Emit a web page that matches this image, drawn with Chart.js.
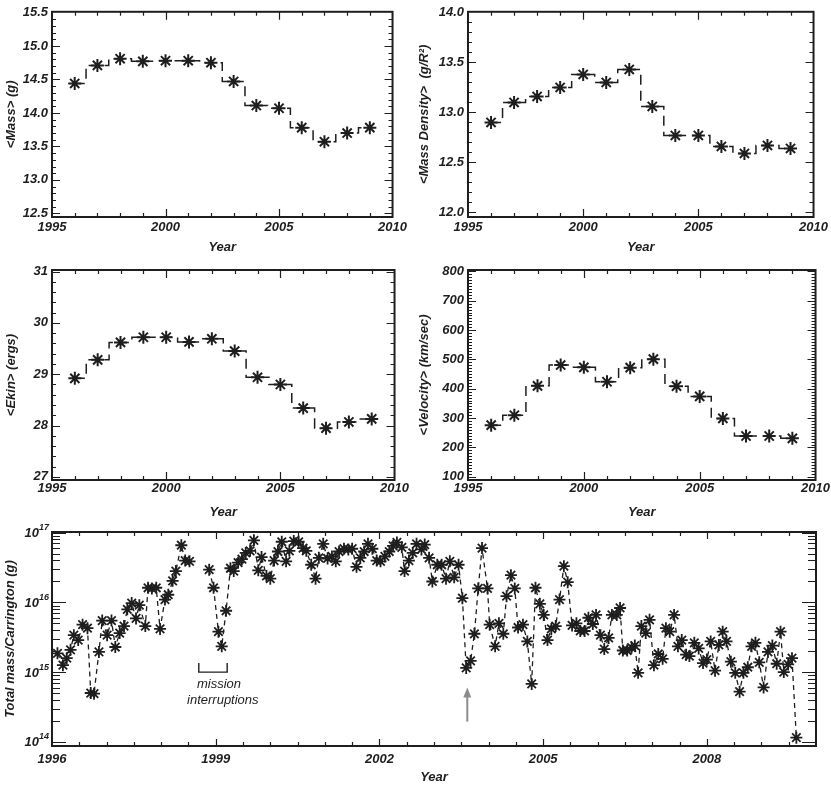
<!DOCTYPE html>
<html>
<head>
<meta charset="utf-8">
<script src="https://cdn.jsdelivr.net/npm/chart.js@4.4.0/dist/chart.umd.min.js"></script>
<style>
  html, body { margin: 0; padding: 0; background: #fff; }
  #wrap { position: relative; width: 831px; height: 785px; }
  canvas { position: absolute; }
</style>
</head>
<body>
<div id="wrap">
  <canvas id="c-mass" width="410" height="255" style="left:0;top:0"></canvas>
  <canvas id="c-density" width="421" height="255" style="left:410px;top:0"></canvas>
  <canvas id="c-ekin" width="410" height="265" style="left:0;top:255px"></canvas>
  <canvas id="c-velocity" width="421" height="265" style="left:410px;top:255px"></canvas>
  <canvas id="c-total" width="831" height="265" style="left:0;top:520px"></canvas>
</div>
<script>
// yearly averages
const years = [1996, 1997, 1998, 1999, 2000, 2001, 2002, 2003, 2004, 2005, 2006, 2007, 2008, 2009];
const meanMass = [14.44, 14.71, 14.81, 14.77, 14.78, 14.78, 14.75, 14.47, 14.11, 14.07, 13.78, 13.57, 13.70, 13.78];
const meanDensity = [12.90, 13.10, 13.16, 13.25, 13.38, 13.30, 13.43, 13.06, 12.77, 12.77, 12.66, 12.59, 12.67, 12.64];
const meanEkin = [28.92, 29.28, 29.62, 29.72, 29.72, 29.63, 29.69, 29.45, 28.94, 28.80, 28.34, 27.95, 28.07, 28.13];
const meanVelocity = [276, 310, 410, 481, 473, 424, 472, 501, 409, 374, 299, 239, 239, 231];

// total mass per Carrington rotation (log10 of grams)
const crYears = [
  1996.10, 1996.20, 1996.27, 1996.34, 1996.40, 1996.48, 1996.56, 1996.65, 1996.71, 1996.77,
  1996.86, 1996.92, 1997.01, 1997.09, 1997.16, 1997.24, 1997.32, 1997.38, 1997.46, 1997.54,
  1997.60, 1997.71, 1997.76, 1997.83, 1997.91, 1997.98, 1998.07, 1998.13, 1998.21, 1998.27,
  1998.37, 1998.44, 1998.52,
  1998.88, 1998.96, 1999.05, 1999.11, 1999.19, 1999.27, 1999.33, 1999.41, 1999.48, 1999.55,
  1999.63, 1999.70, 1999.78, 1999.84, 1999.93, 2000.00, 2000.07, 2000.14, 2000.21, 2000.29,
  2000.35, 2000.43, 2000.52, 2000.60, 2000.66, 2000.75, 2000.83, 2000.89, 2000.97, 2001.05,
  2001.13, 2001.20, 2001.26, 2001.35, 2001.43, 2001.50, 2001.58, 2001.65, 2001.72, 2001.79,
  2001.87, 2001.95, 2002.02, 2002.10, 2002.18, 2002.25, 2002.32, 2002.41, 2002.46, 2002.54,
  2002.61, 2002.68, 2002.77, 2002.83, 2002.91, 2002.97,
  2003.06, 2003.14, 2003.22, 2003.29, 2003.37, 2003.45, 2003.52, 2003.59, 2003.67, 2003.74,
  2003.81, 2003.88, 2003.98, 2004.02, 2004.12, 2004.19, 2004.27, 2004.33, 2004.41, 2004.48,
  2004.54, 2004.63, 2004.71, 2004.79, 2004.86, 2004.94, 2005.01, 2005.08, 2005.15, 2005.23,
  2005.30, 2005.38, 2005.45, 2005.53, 2005.61, 2005.68, 2005.76, 2005.83, 2005.91, 2005.97,
  2006.05, 2006.12, 2006.20, 2006.26, 2006.35, 2006.41, 2006.46,
  2006.54, 2006.62, 2006.68, 2006.74, 2006.80, 2006.88, 2006.95, 2007.03, 2007.11, 2007.19,
  2007.25, 2007.32, 2007.40, 2007.47, 2007.54, 2007.62, 2007.68, 2007.77, 2007.85, 2007.93,
  2008.00, 2008.07, 2008.15, 2008.22, 2008.29, 2008.36, 2008.44, 2008.52, 2008.60, 2008.67,
  2008.75, 2008.82, 2008.89, 2008.96, 2009.04, 2009.12, 2009.20, 2009.28, 2009.35, 2009.41,
  2009.49, 2009.56, 2009.64
];
const crLogMass = [
  15.27, 15.10, 15.20, 15.32, 15.53, 15.46, 15.68, 15.63, 14.70, 14.69,
  15.29, 15.74, 15.53, 15.74, 15.36, 15.56, 15.66, 15.90, 15.99, 15.77,
  15.96, 15.66, 16.21, 16.20, 16.21, 15.62, 16.04, 16.11, 16.31, 16.45,
  16.82, 16.60, 16.59,
  16.47, 16.21, 15.58, 15.37, 15.88, 16.49, 16.45, 16.57, 16.62, 16.71,
  16.74, 16.89, 16.46, 16.65, 16.38, 16.34, 16.60, 16.73, 16.87, 16.59,
  16.74, 16.88, 16.87, 16.78, 16.74, 16.54, 16.34, 16.64, 16.84, 16.63,
  16.66, 16.59, 16.73, 16.77, 16.76, 16.77, 16.51, 16.64, 16.73, 16.84,
  16.77, 16.60, 16.59, 16.66, 16.73, 16.81, 16.86, 16.79, 16.45, 16.60,
  16.71, 16.84, 16.76, 16.83, 16.64, 16.30,
  16.54, 16.54, 16.34, 16.59, 16.36, 16.54, 16.06, 15.06, 15.16, 15.55,
  16.20, 16.78, 16.20, 15.68, 15.37, 15.70, 15.55, 16.09, 16.39, 16.20,
  15.64, 15.68, 15.44, 14.83, 16.21, 15.98, 15.82, 15.46, 15.62, 15.66,
  16.04, 16.52, 16.29, 15.67, 15.70, 15.59, 15.59, 15.78, 15.69, 15.82,
  15.53, 15.33, 15.49, 15.82, 15.82, 15.92, 15.31,
  15.31, 15.35, 15.38, 14.99, 15.66, 15.56, 15.75, 15.10, 15.26, 15.19,
  15.63, 15.58, 15.82, 15.37, 15.46, 15.25, 15.23, 15.42, 15.34, 15.13,
  15.18, 15.44, 15.02, 15.39, 15.58, 15.44, 15.15, 14.99, 14.72, 14.99,
  15.07, 15.37, 15.42, 15.14, 14.78, 15.29, 15.38, 15.12, 15.58, 15.00,
  15.11, 15.20, 14.06
];

// tick labels
const yearTicks = [1995, 2000, 2005, 2010];
const massTicks = [12.5, 13.0, 13.5, 14.0, 14.5, 15.0, 15.5];
const densityTicks = [12.0, 12.5, 13.0, 13.5, 14.0];
const ekinTicks = [27, 28, 29, 30, 31];
const velocityTicks = [100, 200, 300, 400, 500, 600, 700, 800];
const crYearTicks = [1996, 1999, 2002, 2005, 2008];
const crMassTicks = [1e14, 1e15, 1e16, 1e17];

const INK = '#1e1e1e';
const FAMILY = "'Liberation Sans', Arial, sans-serif";
const tickFont = { family: FAMILY, size: 13, style: 'italic', weight: 'bold', lineHeight: 1.2 };

function range(a, b, step) {
  const n = Math.round((b - a) / step);
  return Array.from({ length: n + 1 }, (_, i) => +(a + i * step).toFixed(4));
}

// box frame with inward ticks on all four sides
const frameTicks = {
  id: 'frameTicks',
  afterDatasetsDraw(chart, args, o) {
    if (!o || !o.xMajor) return;
    const { ctx, chartArea: a, scales: { x, y } } = chart;
    ctx.save();
    ctx.strokeStyle = INK;
    ctx.lineWidth = 1.2;
    ctx.beginPath();
    const xt = (vals, len) => vals.forEach(v => {
      const p = Math.round(x.getPixelForValue(v)) + 0.5;
      if (p < a.left + 1 || p > a.right - 1) return;
      ctx.moveTo(p, a.bottom); ctx.lineTo(p, a.bottom - len);
      ctx.moveTo(p, a.top); ctx.lineTo(p, a.top + len);
    });
    const yt = (vals, len) => vals.forEach(v => {
      const p = Math.round(y.getPixelForValue(v)) + 0.5;
      if (p < a.top + 1 || p > a.bottom - 1) return;
      ctx.moveTo(a.left, p); ctx.lineTo(a.left + len, p);
      ctx.moveTo(a.right, p); ctx.lineTo(a.right - len, p);
    });
    xt(o.xMinor, o.xMinorLen); xt(o.xMajor, o.xMajorLen);
    yt(o.yMinor, o.yMinorLen); yt(o.yMajor, o.yMajorLen);
    ctx.stroke();
    ctx.lineWidth = 2;
    ctx.strokeRect(a.left, a.top, a.right - a.left, a.bottom - a.top);
    ctx.restore();
  }
};
Chart.register(frameTicks);

function stepPanel(id, values, yTicks, p) {
  return new Chart(document.getElementById(id), {
    type: 'line',
    data: {
      datasets: [{
        data: years.map((x, i) => ({ x, y: values[i] })),
        stepped: 'middle',
        borderColor: INK,
        borderWidth: 1.5,
        borderDash: [10, 6],
        pointStyle: 'star',
        pointRadius: 6.5,
        pointBorderWidth: 2,
        pointBorderColor: INK,
        pointBackgroundColor: INK
      }]
    },
    options: {
      responsive: false,
      animation: false,
      events: [],
      layout: { padding: { left: 0, top: p.top, right: p.right, bottom: 0 } },
      plugins: {
        legend: { display: false },
        tooltip: { enabled: false },
        frameTicks: {
          xMajor: yearTicks, xMinor: range(1995, 2010, 1), xMajorLen: 8, xMinorLen: 4,
          yMajor: yTicks, yMinor: p.yMinor, yMajorLen: 8, yMinorLen: 4
        }
      },
      scales: {
        x: {
          type: 'linear', min: 1995, max: 2010,
          afterFit: s => { s.height = p.xh; },
          afterBuildTicks: s => { s.ticks = yearTicks.map(v => ({ value: v })); },
          grid: { display: false, drawTicks: false },
          border: { display: false },
          ticks: { font: tickFont, color: INK, padding: p.xpad, maxRotation: 0, autoSkip: false, callback: v => String(v) },
          title: { display: true, text: 'Year', font: tickFont, color: INK, padding: 0 }
        },
        y: {
          type: 'linear', min: p.min, max: p.max,
          afterFit: s => { s.width = p.yw; },
          afterBuildTicks: s => { s.ticks = yTicks.map(v => ({ value: v })); },
          grid: { display: false, drawTicks: false },
          border: { display: false },
          ticks: { font: tickFont, color: INK, padding: 4, autoSkip: false, callback: p.fmt },
          title: { display: true, text: p.title, font: tickFont, color: INK, padding: { top: p.tpad, bottom: 0 } }
        }
      }
    }
  });
}

stepPanel('c-mass', meanMass, massTicks, {
  top: 6, right: 10, xh: 38, yw: 52, xpad: 3, tpad: 4,
  min: 12.446, max: 15.51, yMinor: range(12.5, 15.5, 0.1),
  fmt: v => v.toFixed(1), title: '<Mass> (g)'
});
stepPanel('c-density', meanDensity, densityTicks, {
  top: 6, right: 15, xh: 38, yw: 58, xpad: 3, tpad: 7,
  min: 11.954, max: 14.007, yMinor: range(12.0, 14.0, 0.1),
  fmt: v => v.toFixed(1), title: '<Mass Density>  (g/R²)'
});
stepPanel('c-ekin', meanEkin, ekinTicks, {
  top: 15, right: 10, xh: 40, yw: 52, xpad: 1, tpad: 4,
  min: 26.94, max: 31.03, yMinor: range(27, 31, 0.2),
  fmt: v => String(v), title: '<Ekin> (ergs)'
});
stepPanel('c-velocity', meanVelocity, velocityTicks, {
  top: 15, right: 15, xh: 40, yw: 58, xpad: 1, tpad: 7,
  min: 89, max: 805, yMinor: range(90, 800, 10),
  fmt: v => String(v), title: '<Velocity> (km/sec)'
});

// decade labels and annotations on the Carrington panel, placed through the scales
const notes = {
  id: 'notes',
  afterDraw(chart) {
    const { ctx, chartArea: a, scales: { x, y } } = chart;
    const X = v => x.getPixelForValue(v);
    const Y = v => y.getPixelForValue(Math.pow(10, v));
    ctx.save();
    ctx.fillStyle = INK;
    ctx.textBaseline = 'middle';
    ctx.textAlign = 'right';
    crMassTicks.forEach(v => {
      const py = y.getPixelForValue(v);
      const e = String(Math.round(Math.log10(v)));
      ctx.font = 'italic bold 9px ' + FAMILY;
      const ew = ctx.measureText(e).width;
      ctx.fillText(e, a.left - 3, py - 5);
      ctx.font = 'italic bold 13px ' + FAMILY;
      ctx.fillText('10', a.left - 3 - ew, py + 1);
    });
    ctx.strokeStyle = INK;
    ctx.lineWidth = 1.4;
    ctx.beginPath();
    ctx.moveTo(X(1998.69), Y(15.13));
    ctx.lineTo(X(1998.69), Y(15.0));
    ctx.lineTo(X(1999.21), Y(15.0));
    ctx.lineTo(X(1999.21), Y(15.13));
    ctx.stroke();
    ctx.font = 'italic 13px ' + FAMILY;
    ctx.textAlign = 'center';
    ctx.fillText('mission', X(1999.06), Y(14.83));
    ctx.fillText('interruptions', X(1999.13), Y(14.60));
    // arrow
    const ax = X(2003.61), y0 = Y(14.29), y1 = Y(14.78);
    ctx.strokeStyle = '#8c8c8c';
    ctx.fillStyle = '#8c8c8c';
    ctx.lineWidth = 2;
    ctx.beginPath();
    ctx.moveTo(ax, y0); ctx.lineTo(ax, y1 + 8);
    ctx.stroke();
    ctx.beginPath();
    ctx.moveTo(ax, y1); ctx.lineTo(ax - 4, y1 + 10); ctx.lineTo(ax + 4, y1 + 10);
    ctx.closePath();
    ctx.fill();
    ctx.restore();
  }
};

const logMinor = [];
[14, 15, 16].forEach(e => { for (let m = 2; m <= 9; m++) logMinor.push(m * Math.pow(10, e)); });

new Chart(document.getElementById('c-total'), {
  type: 'line',
  data: {
    datasets: [{
      data: crYears.map((x, i) => ({ x, y: Math.pow(10, crLogMass[i]) })),
      borderColor: INK,
      borderWidth: 1.3,
      borderDash: [5, 4],
      pointStyle: 'star',
      pointRadius: 6,
      pointBorderWidth: 1.8,
      pointBorderColor: INK,
      pointBackgroundColor: INK,
      segment: {
        borderColor: c => (c.p1.parsed.x - c.p0.parsed.x > 0.2 ? 'rgba(0,0,0,0)' : INK)
      }
    }]
  },
  plugins: [notes],
  options: {
    responsive: false,
    animation: false,
    events: [],
    layout: { padding: { left: 0, top: 12, right: 15, bottom: 0 } },
    plugins: {
      legend: { display: false },
      tooltip: { enabled: false },
      frameTicks: {
        xMajor: crYearTicks, xMinor: range(1996, 2010, 0.5), xMajorLen: 7, xMinorLen: 4,
        yMajor: crMassTicks, yMinor: logMinor, yMajorLen: 14, yMinorLen: 8
      }
    },
    scales: {
      x: {
        type: 'linear', min: 1996, max: 2010,
        afterFit: s => { s.height = 39; },
        afterBuildTicks: s => { s.ticks = crYearTicks.map(v => ({ value: v })); },
        grid: { display: false, drawTicks: false },
        border: { display: false },
        ticks: { font: tickFont, color: INK, padding: 6, maxRotation: 0, autoSkip: false, callback: v => String(v) },
        title: { display: true, text: 'Year', font: tickFont, color: INK, padding: 0 }
      },
      y: {
        type: 'logarithmic', min: Math.pow(10, 13.94), max: Math.pow(10, 17.01),
        afterFit: s => { s.width = 52; },
        afterBuildTicks: s => { s.ticks = crMassTicks.map(v => ({ value: v })); },
        grid: { display: false, drawTicks: false },
        border: { display: false },
        ticks: { display: false },
        title: { display: true, text: 'Total mass/Carrington (g)', font: tickFont, color: INK, padding: { top: 3, bottom: 0 } }
      }
    }
  }
});
</script>
</body>
</html>
